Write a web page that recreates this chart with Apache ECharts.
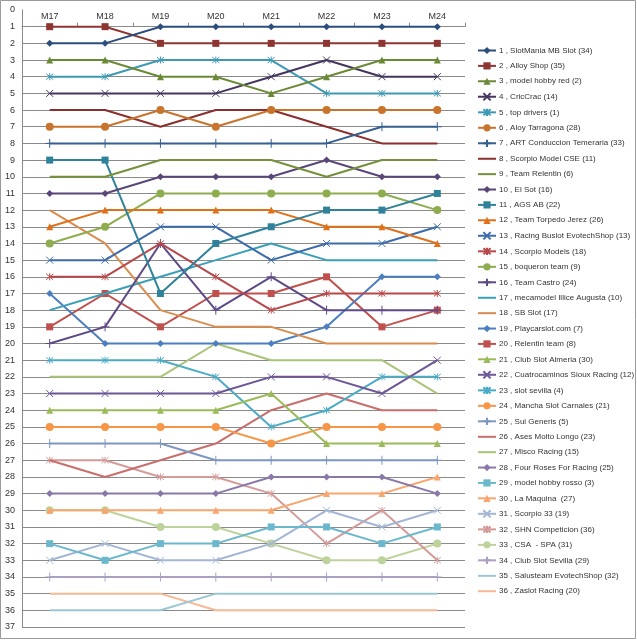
<!DOCTYPE html>
<html><head><meta charset="utf-8">
<script src="https://cdn.jsdelivr.net/npm/echarts@6/dist/echarts.min.js"></script>
<style>html,body{margin:0;padding:0;background:#fff}#c{width:637px;height:640px}</style>
</head><body><div id="c"></div>
<script>
const categories = ['M17','M18','M19','M20','M21','M22','M23','M24'];
const yTicks = Array.from({length: 38}, (_, i) => i);
const names = [
 '1 , SlotMania MB Slot (34)','2 , Alloy Shop (35)','3 , model hobby red (2)','4 , CricCrac (14)',
 '5 , top drivers (1)','6 , Aloy Tarragona (28)','7 , ART Conduccion Temeraria (33)','8 , Scorpio Model CSE (11)',
 '9 , Team Relentin (6)','10 , El Sot (16)','11 , AGS AB (22)','12 , Team Torpedo Jerez (26)',
 '13 , Racing Buslot EvotechShop (13)','14 , Scorpio Models (18)','15 , boqueron team (9)','16 , Team Castro (24)',
 '17 , mecamodel Illice Augusta (10)','18 , SB Slot (17)','19 , Playcarslot.com (7)','20 , Relentin team (8)',
 '21 , Club Slot Almeria (30)','22 , Cuatrocaminos Sioux Racing (12)','23 , slot sevilla (4)','24 , Mancha Slot Carnales (21)',
 '25 , Sui Generis (5)','26 , Ases Molto Longo (23)','27 , Misco Racing (15)','28 , Four Roses For Racing (25)',
 '29 , model hobby rosso (3)','30 , La Maquina  (27)','31 , Scorpio 33 (19)','32 , SHN Competicion (36)',
 '33 , CSA  - SPA (31)','34 , Club Slot Sevilla (29)','35 , Salusteam EvotechShop (32)','36 , Zaslot Racing (20)'
];
const r01 = [2,2,1,1,1,1,1,1];
const r02 = [1,1,2,2,2,2,2,2];
const r03 = [3,3,4,4,5,4,3,3];
const r04 = [5,5,5,5,4,3,4,4];
const r05 = [4,4,3,3,3,5,5,5];
const r06 = [7,7,6,7,6,6,6,6];
const r07 = [8,8,8,8,8,8,7,7];
const r08 = [6,6,7,6,6,7,8,8];
const r09 = [10,10,9,9,9,10,9,9];
const r10 = [11,11,10,10,10,9,10,10];
const r11 = [9,9,17,14,13,12,12,11];
const r12 = [13,12,12,12,12,13,13,14];
const r13 = [15,15,13,13,15,14,14,13];
const r14 = [16,16,14,16,18,17,17,17];
const r15 = [14,13,11,11,11,11,11,12];
const r16 = [20,19,14,18,16,18,18,18];
const r17 = [18,17,16,15,14,15,15,15];
const r18 = [12,14,18,19,19,20,20,20];
const r19 = [17,20,20,20,20,19,16,16];
const r20 = [19,17,19,17,17,16,19,18];
const r21 = [24,24,24,24,23,26,26,26];
const r22 = [23,23,23,23,22,22,23,21];
const r23 = [21,21,21,22,25,24,22,22];
const r24 = [25,25,25,25,26,25,25,25];
const r25 = [26,26,26,27,27,27,27,27];
const r26 = [27,28,27,26,24,23,24,24];
const r27 = [22,22,22,20,21,21,21,23];
const r28 = [29,29,29,29,28,28,28,29];
const r29 = [32,33,32,32,31,31,32,31];
const r30 = [30,30,30,30,30,29,29,28];
const r31 = [33,32,33,33,32,30,31,30];
const r32 = [27,27,28,28,29,32,30,33];
const r33 = [30,30,31,31,32,33,33,32];
const r34 = [34,34,34,34,34,34,34,34];
const r35 = [36,36,36,35,35,35,35,35];
const r36 = [35,35,35,36,36,36,36,36];
const allRanks = [r01,r02,r03,r04,r05,r06,r07,r08,r09,r10,r11,r12,r13,r14,r15,r16,r17,r18,
 r19,r20,r21,r22,r23,r24,r25,r26,r27,r28,r29,r30,r31,r32,r33,r34,r35,r36];

const colors = [
 '#2C4E7F','#8E3431','#6A8A35','#45355E','#3E9AB4','#C8742C',
 '#36608F','#8A2F2C','#74913A','#5B4679','#2F8299','#E0711A',
 '#3D6CAA','#B8484A','#8DAD4F','#5E4A86','#3AA0B8','#D98D4E',
 '#4B7FC0','#C0504D','#9BBB59','#6D5596','#4BACC6','#F79646',
 '#7E97C0','#C86E6C','#A9C477','#8A78A9','#6BB8CD','#F8A56E',
 '#A3B6D5','#D49B99','#BED39C','#ABA0C3','#9CC6D4','#F6B994'
];
const X = 'path://M0,0L10,10M10,0L0,10';
const STAR = 'path://M0,0L10,10M10,0L0,10M5,-1L5,11';
const PLUS = 'path://M5,0L5,10M0,5L10,5';
const markerCycle = ['diamond','rect','triangle',X,STAR,'circle',PLUS,'none','none'];
const sizeCycle = [7,7,7,7,7,8,9,0,0];

const series = allRanks.map((d, i) => {
  const c = colors[i];
  const m = markerCycle[i % 9];
  const none = m === 'none';
  const stroked = (m === X || m === STAR || m === PLUS);
  let itemStyle;
  if (none) itemStyle = {color: 'rgba(0,0,0,0)', borderColor: 'rgba(0,0,0,0)', borderWidth: 0};
  else if (stroked) itemStyle = {color: 'rgba(0,0,0,0)', borderColor: c, borderWidth: 1};
  else itemStyle = {color: c, borderColor: c, borderWidth: 0};
  return {
    name: names[i], type: 'line', data: d,
    symbol: none ? 'circle' : m, symbolSize: none ? 0 : sizeCycle[i % 9], showSymbol: !none,
    lineStyle: {color: c, width: 2},
    itemStyle: itemStyle,
    z: 40 - i
  };
});

const splitColors = yTicks.map(v => v === 0 ? 'rgba(0,0,0,0)' : '#8a8a8a');

const chart = echarts.init(document.getElementById('c'), null, {renderer: 'canvas'});
chart.setOption({
  animation: false,
  backgroundColor: '#fff',
  grid: {left: 22, top: 10, right: 172, bottom: 13, containLabel: false},
  xAxis: {
    type: 'category', data: categories, position: 'top', offset: -16.68,
    axisLine: {show: true, lineStyle: {color: '#8a8a8a', width: 1}},
    axisTick: {show: true, length: 4, lineStyle: {color: '#8a8a8a'}},
    axisLabel: {fontSize: 9, color: '#333', margin: 6, fontFamily: 'Liberation Sans'},
    splitLine: {show: false}
  },
  yAxis: {
    type: 'value', inverse: true, min: 0, max: 37, interval: 1,
    axisLine: {show: true, lineStyle: {color: '#8a8a8a'}},
    axisTick: {show: false},
    axisLabel: {fontSize: 9, color: '#333', margin: 7, fontFamily: 'Liberation Sans'},
    splitLine: {show: true, lineStyle: {color: splitColors, width: 1}}
  },
  legend: {
    orient: 'vertical', left: 477, top: 46, padding: 0,
    itemWidth: 18, itemHeight: 9, itemGap: 6.38,
    selectedMode: false,
    textStyle: {fontSize: 8, lineHeight: 9, color: '#333', fontFamily: 'Liberation Sans', padding: [0,0,0,-2]},
    data: names
  },
  graphic: [{type: 'rect', shape: {x: 0.5, y: 0.5, width: 635, height: 638},
    style: {fill: 'none', stroke: '#9a9a9a', lineWidth: 1}, silent: true}],
  series: series
});
</script></body></html>
